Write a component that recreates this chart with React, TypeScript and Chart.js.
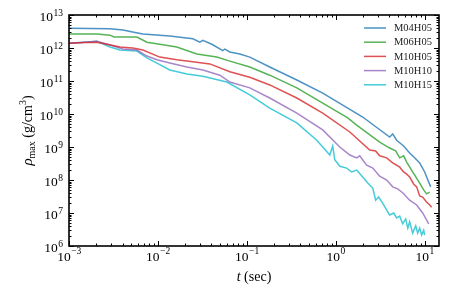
import React, { useEffect, useRef } from "react";
import { Chart, registerables } from "chart.js";

Chart.register(...registerables);

// ---- data (t in sec, rho_max in g/cm^3) ----
const LABELS = ["M04H05", "M06H05", "M10H05", "M10H10", "M10H15"];

const T_M04H05 = [0.001, 0.00172, 0.00289, 0.00405, 0.00552, 0.00678, 0.0136, 0.0247, 0.0296, 0.032, 0.0404, 0.0537, 0.0566, 0.0644, 0.0834, 0.108, 0.181, 0.365, 0.714, 1.365, 2.01, 4.04, 4.37, 4.84, 5.8, 6.78, 7.72, 8.79, 10.0, 11.1, 11.7];
const R_M04H05 = [4.0e12, 3.9e12, 3.8e12, 3.5e12, 2.95e12, 2.65e12, 2.3e12, 1.9e12, 1.5e12, 1.7e12, 1.3e12, 8.3e11, 9.3e11, 7.6e11, 6.6e11, 5.3e11, 2.65e11, 1.07e11, 4.3e10, 1.5e10, 8.1e9, 2.0e9, 2.5e9, 1.6e9, 1.07e9, 6.6e8, 4.7e8, 3.3e8, 1.75e8, 8.7e7, 6.2e7];

const T_M06H05 = [0.001, 0.00206, 0.00289, 0.00321, 0.00581, 0.00752, 0.0105, 0.0163, 0.0274, 0.046, 0.0644, 0.108, 0.181, 0.365, 0.714, 1.365, 1.72, 3.12, 4.04, 4.72, 5.24, 5.8, 6.28, 7.33, 8.79, 9.75, 10.5, 11.4];
const R_M06H05 = [2.65e12, 2.65e12, 2.45e12, 2.15e12, 2.15e12, 1.5e12, 1.3e12, 1.07e12, 6.6e11, 5.3e11, 4.0e11, 2.65e11, 1.5e11, 6.2e10, 2.15e10, 7.6e9, 4.6e9, 1.4e9, 9.3e8, 7.6e8, 4.7e8, 5.4e8, 3.5e8, 1.75e8, 8.1e7, 5.0e7, 3.8e7, 4.3e7];

const T_M10H05 = [0.001, 0.00151, 0.00206, 0.00267, 0.00374, 0.00523, 0.00678, 0.0105, 0.0163, 0.0247, 0.0384, 0.0644, 0.108, 0.181, 0.365, 0.714, 1.44, 2.41, 2.81, 3.12, 3.74, 4.37, 5.24, 5.8, 6.28, 6.78, 7.52, 8.13, 8.79, 9.5, 10.5, 11.4, 12.0];
const R_M10H05 = [1.4e12, 1.47e12, 1.5e12, 1.3e12, 1.07e12, 1.0e12, 8.7e11, 5.3e11, 4.4e11, 3.8e11, 3.3e11, 1.9e11, 1.3e11, 7.6e10, 3.05e10, 1.07e10, 2.85e9, 8.1e8, 7.6e8, 5.4e8, 4.7e8, 3.3e8, 2.45e8, 1.75e8, 1.5e8, 1.23e8, 7.6e7, 6.2e7, 3.3e7, 3.05e7, 2.15e7, 1.75e7, 1.5e7];

const T_M10H10 = [0.001, 0.00151, 0.00206, 0.00289, 0.00405, 0.00581, 0.00752, 0.00975, 0.0136, 0.0212, 0.032, 0.0498, 0.0644, 0.108, 0.181, 0.365, 0.714, 1.11, 1.44, 1.72, 1.86, 2.23, 2.61, 3.12, 3.74, 4.37, 4.97, 5.66, 6.78, 8.13, 9.5, 10.5, 11.1];
const R_M10H10 = [1.4e12, 1.5e12, 1.6e12, 1.23e12, 9.3e11, 8.7e11, 5.7e11, 4.4e11, 3.5e11, 2.65e11, 2.15e11, 1.5e11, 9.3e10, 6.2e10, 3.05e10, 1.07e10, 3.3e9, 1.0e9, 5.7e8, 4.7e8, 5.4e8, 2.8e8, 2.3e8, 1.3e8, 1.0e8, 6.2e7, 5.4e7, 4.1e7, 2.45e7, 1.75e7, 1.0e7, 6.2e6, 4.7e6];

const T_M10H15 = [0.001, 0.00151, 0.00206, 0.00289, 0.00374, 0.00581, 0.00752, 0.00975, 0.0136, 0.0212, 0.032, 0.0596, 0.108, 0.181, 0.365, 0.612, 0.857, 0.925, 0.975, 1.11, 1.33, 1.51, 1.72, 2.01, 2.29, 2.61, 2.81, 3.04, 3.37, 3.74, 4.04, 4.49, 4.84, 5.24, 5.66, 6.12, 6.46, 6.78, 7.33, 7.93, 8.35, 8.79, 9.25, 9.75, 10.0];
const R_M10H15 = [1.4e12, 1.5e12, 1.6e12, 1.07e12, 8.7e11, 8.1e11, 5.0e11, 3.5e11, 2.15e11, 1.63e11, 1.4e11, 9.3e10, 3.8e10, 1.5e10, 5.4e9, 1.6e9, 5.7e8, 1.07e9, 4.1e8, 2.6e8, 2.3e8, 1.75e8, 2.0e8, 1.23e8, 8.1e7, 5.7e7, 2.45e7, 3.05e7, 2.0e7, 1.23e7, 8.7e6, 1.0e7, 7.1e6, 8.1e6, 4.7e6, 6.6e6, 3.5e6, 5.4e6, 2.45e6, 4.1e6, 2.45e6, 3.5e6, 2.15e6, 3.0e6, 2.15e6];

const TIMES = [T_M04H05, T_M06H05, T_M10H05, T_M10H10, T_M10H15];
const RHOS = [R_M04H05, R_M06H05, R_M10H05, R_M10H10, R_M10H15];
const COLORS = [
  "rgba(31,119,180,0.8)",
  "rgba(44,160,44,0.8)",
  "rgba(214,39,40,0.8)",
  "rgba(148,103,189,0.8)",
  "rgba(23,190,207,0.8)",
];

const X_MIN = 1e-3;
const X_MAX = 14.5;
const Y_MIN = 1e6;
const Y_MAX = 1e13;
const X_DECADES = [-3, -2, -1, 0, 1];
const Y_DECADES = [6, 7, 8, 9, 10, 11, 12, 13];

const SERIF = "'Liberation Serif', 'DejaVu Serif', serif";

const toSup = (n: number) => {
  const map: Record<string, string> = { "-": "\u2212" };
  return String(n).split("").map((c) => map[c] ?? c).join("");
};

const decoPlugin = {
  id: "deco",
  afterDraw(chart: any) {
    const { ctx, chartArea, scales } = chart;
    const { left, right, top, bottom } = chartArea;
    const xs = scales.x;
    const ys = scales.y;
    ctx.save();
    ctx.strokeStyle = "#000";
    ctx.fillStyle = "#000";

    // ticks (inward, all four sides)
    ctx.lineWidth = 1;
    const major = 5;
    const minor = 2.5;
    for (let e = -4; e <= 2; e++) {
      for (let m = 1; m <= 9; m++) {
        const v = m * Math.pow(10, e);
        if (v < X_MIN * 0.999 || v > X_MAX) continue;
        const px = Math.round(xs.getPixelForValue(v)) + 0.5;
        const len = m === 1 ? major : minor;
        ctx.beginPath();
        ctx.moveTo(px, bottom);
        ctx.lineTo(px, bottom - len);
        ctx.moveTo(px, top);
        ctx.lineTo(px, top + len);
        ctx.stroke();
      }
    }
    for (let e = 5; e <= 13; e++) {
      for (let m = 1; m <= 9; m++) {
        const v = m * Math.pow(10, e);
        if (v < Y_MIN * 0.999 || v > Y_MAX * 1.001) continue;
        const py = Math.round(ys.getPixelForValue(v)) + 0.5;
        const len = m === 1 ? major : minor;
        ctx.beginPath();
        ctx.moveTo(left, py);
        ctx.lineTo(left + len, py);
        ctx.moveTo(right, py);
        ctx.lineTo(right - len, py);
        ctx.stroke();
      }
    }

    // frame
    ctx.lineWidth = 1.6;
    ctx.strokeRect(left, top, right - left, bottom - top);

    // tick labels
    const baseFont = `13.5px ${SERIF}`;
    const expFont = `9.5px ${SERIF}`;
    ctx.textBaseline = "alphabetic";
    ctx.textAlign = "left";
    for (const e of X_DECADES) {
      const px = xs.getPixelForValue(Math.pow(10, e));
      ctx.font = baseFont;
      const wb = ctx.measureText("10").width;
      ctx.font = expFont;
      const ex = toSup(e);
      const we = ctx.measureText(ex).width;
      const x0 = px - (wb + we) / 2;
      ctx.font = baseFont;
      ctx.fillText("10", x0, bottom + 15);
      ctx.font = expFont;
      ctx.fillText(ex, x0 + wb + 0.5, bottom + 8);
    }
    for (const e of Y_DECADES) {
      const py = ys.getPixelForValue(Math.pow(10, e));
      ctx.font = baseFont;
      const wb = ctx.measureText("10").width;
      ctx.font = expFont;
      const ex = toSup(e);
      const we = ctx.measureText(ex).width;
      const xEnd = left - 6;
      ctx.font = baseFont;
      ctx.fillText("10", xEnd - we - wb - 0.5, py + 5.5);
      ctx.font = expFont;
      ctx.fillText(ex, xEnd - we, py + 1);
    }

    // x title: t (sec)
    {
      const f1 = `italic 14px ${SERIF}`;
      const f2 = `14px ${SERIF}`;
      ctx.font = f1;
      const w1 = ctx.measureText("t").width;
      ctx.font = f2;
      const w2 = ctx.measureText(" (sec)").width;
      const cx = (left + right) / 2;
      const x0 = cx - (w1 + w2) / 2;
      const by = 281;
      ctx.font = f1;
      ctx.fillText("t", x0, by);
      ctx.font = f2;
      ctx.fillText(" (sec)", x0 + w1, by);
    }

    // y title: rho_max (g/cm^3)
    {
      const segs = [
        { t: "\u03C1", f: `italic 15px ${SERIF}`, dy: 0 },
        { t: "max", f: `10px ${SERIF}`, dy: 3 },
        { t: " (g/cm", f: `14px ${SERIF}`, dy: 0 },
        { t: "3", f: `10px ${SERIF}`, dy: -6 },
        { t: ")", f: `14px ${SERIF}`, dy: 0 },
      ];
      let total = 0;
      const widths = segs.map((s) => {
        ctx.font = s.f;
        const w = ctx.measureText(s.t).width;
        total += w;
        return w;
      });
      ctx.save();
      ctx.translate(32, (top + bottom) / 2);
      ctx.rotate(-Math.PI / 2);
      let x = -total / 2;
      segs.forEach((s, i) => {
        ctx.font = s.f;
        ctx.fillText(s.t, x, s.dy);
        x += widths[i];
      });
      ctx.restore();
    }

    // legend
    ctx.font = `10.5px ${SERIF}`;
    ctx.textBaseline = "middle";
    chart.data.datasets.forEach((ds: any, i: number) => {
      const y = 28 + i * 14.2;
      ctx.strokeStyle = ds.borderColor;
      ctx.lineWidth = 1.5;
      ctx.beginPath();
      ctx.moveTo(364, y);
      ctx.lineTo(386, y);
      ctx.stroke();
      ctx.fillStyle = "#222";
      ctx.fillText(ds.label, 394, y + 0.5);
    });

    ctx.restore();
  },
};

export default function App() {
  const ref = useRef<HTMLCanvasElement | null>(null);

  useEffect(() => {
    if (!ref.current) return;
    const datasets = LABELS.map((label, i) => ({
      label,
      data: TIMES[i].map((t, j) => ({ x: t, y: RHOS[i][j] })),
      borderColor: COLORS[i],
      backgroundColor: COLORS[i],
      borderWidth: 1.5,
      pointRadius: 0,
      tension: 0,
      fill: false,
    }));
    const chart = new Chart(ref.current, {
      type: "line",
      data: { datasets },
      options: {
        responsive: false,
        animation: false,
        devicePixelRatio: 1,
        layout: { padding: { left: 69, right: 24, top: 15, bottom: 44 } },
        plugins: { legend: { display: false }, tooltip: { enabled: false } },
        scales: {
          x: { type: "logarithmic", min: X_MIN, max: X_MAX, display: false },
          y: { type: "logarithmic", min: Y_MIN, max: Y_MAX, display: false },
        },
      },
      plugins: [decoPlugin],
    } as any);
    return () => chart.destroy();
  }, []);

  return (
    <div style={{ position: "fixed", left: 0, top: 0, width: 463, height: 290, background: "#fff" }}>
      <canvas ref={ref} width={463} height={290} style={{ display: "block" }} />
    </div>
  );
}
